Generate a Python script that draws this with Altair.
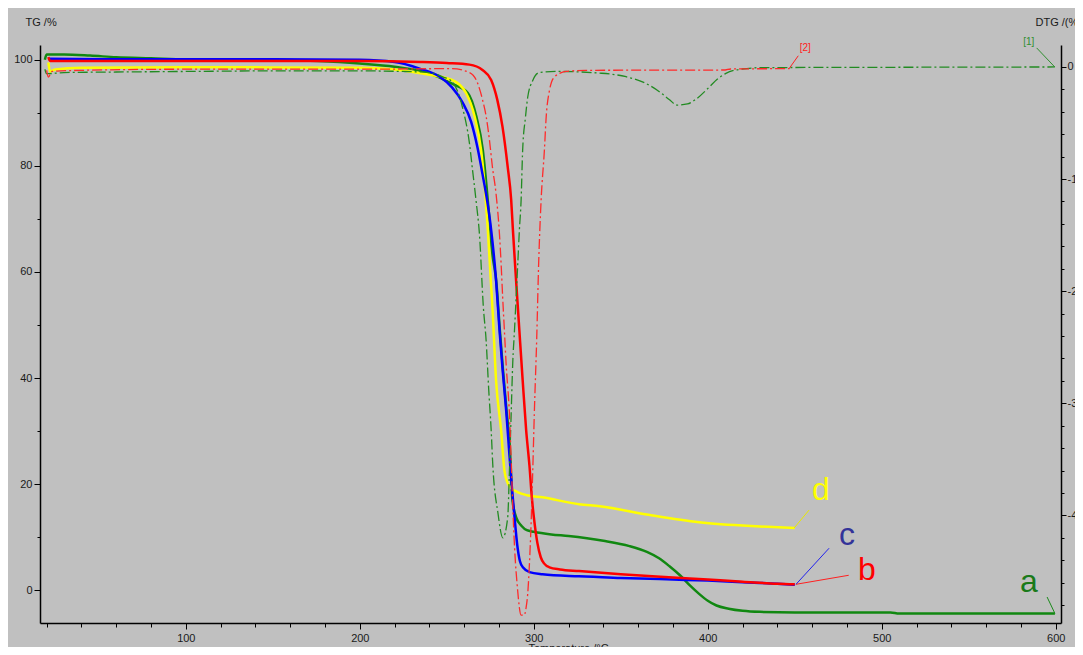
import altair as alt
import pandas as pd

# ---------------- data ----------------
# TG curves (solid), temperature in degC, mass in %
T_A = [19, 20, 30, 45, 60, 80, 100, 150, 200, 220, 235, 245, 253, 262, 267, 270.7, 272.6, 274.5, 276, 278.5, 280.5, 282.3, 284.3, 286.2, 287.7, 290, 293, 296, 300, 310, 320, 340, 355, 365, 372, 378, 384, 390, 395, 400, 405, 412, 420, 430, 450, 505, 510, 599.5]
TG_A = [100, 101, 101, 100.8, 100.5, 100.3, 100.1, 100.0, 99.3, 98.7, 97.9, 96.8, 95.5, 93.8, 89.3, 83, 77, 70, 64, 58, 49, 41.5, 34, 27, 17, 13.6, 12.1, 11.3, 11.0, 10.5, 10.2, 9.3, 8.3, 7.2, 6, 4.5, 2.8, 0.8, -0.7, -2.0, -2.9, -3.5, -3.9, -4.1, -4.2, -4.2, -4.4, -4.4]

T_B = [21, 22, 60, 100, 200, 235, 250, 263, 270.5, 275.5, 279, 282, 285, 287, 288, 289.8, 291.7, 293.6, 295.6, 297.5, 299, 300.3, 302, 304, 306, 309, 315, 326, 350, 380, 400, 420, 440, 450]
TG_B = [100.5, 99.8, 99.8, 99.8, 99.8, 99.6, 99.4, 99.1, 98.1, 96.2, 92.5, 87.4, 79.8, 73.6, 67.9, 58.5, 49, 39.6, 30.2, 23.5, 17, 13, 9, 6.2, 5.0, 4.3, 3.9, 3.6, 3.0, 2.4, 2.0, 1.6, 1.2, 1.1]

T_C = [21, 60, 100, 150, 200, 220, 234, 246, 253, 259, 264, 267.6, 270.5, 273.4, 275.5, 278.3, 280.3, 282.1, 284.1, 286, 287.5, 289, 290.5, 292, 294, 297.5, 305, 326, 350, 380, 400, 420, 440, 450]
TG_C = [100.2, 100.1, 100.1, 100.1, 100, 99.6, 98.4, 96.8, 94.8, 92.0, 88.3, 83.5, 78.5, 73, 67.9, 58.5, 49, 41.5, 34, 25.5, 19, 13.5, 8.5, 5.5, 4.2, 3.4, 3.0, 2.6, 2.3, 2.0, 1.8, 1.5, 1.2, 1.0]

T_D = [21, 22, 25, 40, 100, 200, 220, 234, 253, 261, 266, 269.7, 271.6, 273.6, 276.4, 278.3, 281.2, 283.1, 285, 287.5, 290.6, 296, 305, 326, 338, 366, 395, 430, 450]
TG_D = [99.5, 97.8, 98.2, 98.5, 98.6, 98.5, 98.2, 97.5, 96.2, 93.8, 89.3, 83, 76.8, 67.9, 52.3, 39.6, 30.2, 22.6, 20.2, 19.1, 18.5, 17.9, 17.5, 16.2, 15.8, 14.2, 12.8, 12.0, 11.7]

# DTG curves (dash-dot), %/min
T_G = [19, 20, 30, 60, 100, 150, 200, 225, 240, 248, 253, 259, 263, 264.8, 266.8, 268.8, 271, 272.6, 274.1, 275.5, 276.4, 279.4, 282.2, 285, 286, 287, 287.9, 288.9, 290.8, 291.7, 292.7, 293.6, 295.2, 296.5, 299.4, 303.2, 312.8, 339, 353, 363.5, 373, 377.8, 382.4, 388.3, 393, 400.8, 405.4, 410.4, 419.8, 431, 500, 599.5]
DTG_G = [-0.2, -0.6, -0.5, -0.45, -0.4, -0.35, -0.35, -0.4, -0.5, -0.9, -1.3, -3.6, -6.8, -9.2, -11.9, -15, -21.4, -24.4, -28.8, -32.4, -35.4, -39.8, -42, -40.2, -36, -30.9, -26.4, -23.5, -17.5, -14.6, -11.9, -7.4, -4.5, -2.7, -1.2, -0.5, -0.4, -0.56, -0.87, -1.4, -2.3, -2.9, -3.4, -3.3, -2.9, -1.8, -1.1, -0.57, -0.18, -0.06, -0.03, 0.0]

T_R = [20, 21, 23, 40, 100, 200, 253, 263, 267.6, 270.5, 272.6, 274.5, 276.2, 278.3, 280.3, 281.2, 282.1, 283.1, 284.1, 286, 287, 288, 289, 290.5, 292.7, 294.5, 295.6, 296.5, 297.5, 298.5, 299.4, 300.3, 301.7, 302.8, 304.2, 306.1, 307.1, 309, 311.8, 318.5, 330, 410, 413, 447]
DTG_R = [-0.3, -0.9, -0.4, -0.3, -0.2, -0.2, -0.15, -0.5, -1.4, -2.9, -4.4, -6.5, -8.9, -11.3, -15, -17.5, -20.5, -23.5, -26.5, -31, -35, -39.5, -43, -46.3, -48.9, -48.9, -48.2, -47, -44.3, -40.5, -36, -30.9, -24.1, -17.5, -11.9, -7.4, -4.5, -2.1, -0.9, -0.4, -0.3, -0.27, -0.18, -0.15]

# curve labels (TG axis)
LABELS = ["a", "b", "c", "d"]
LABEL_T = [584.5, 491.5, 480, 465]
LABEL_V = [1.5, 3.8, 10.4, 18.9]
LABEL_COLORS = ["#1a7a1a", "#ff0000", "#333399", "#ffff00"]
LEAD_GRP = ["a", "a", "b", "b", "c", "c", "d", "d"]
LEAD_T = [595, 599.5, 450.7, 481, 450.7, 469.7, 449.6, 458.2]
LEAD_V = [-1.3, -4.4, 1.1, 2.8, 1.1, 7.9, 11.7, 15.1]
LEAD_COLORS = ["#1a8a1a", "#1a8a1a", "#ff2020", "#ff2020", "#2222ee", "#2222ee", "#e8e800", "#e8e800"]

# DTG curve labels
DLABELS = ["[1]", "[2]"]
DLABEL_T = [584.5, 456]
DLABEL_V = [2.2, 1.7]
DLABEL_COLORS = ["#2f8f2f", "#ff2020"]
DLEAD_GRP = ["1", "1", "2", "2"]
DLEAD_T = [589, 599.4, 452, 446.7]
DLEAD_V = [1.7, 0.0, 1.0, -0.15]
DLEAD_COLORS = ["#2f8f2f", "#2f8f2f", "#ff2020", "#ff2020"]

X_TICKS = list(range(20, 601, 20))
TG_TICKS = list(range(0, 101, 10))
DTG_TICKS = list(range(-48, 1, 2))

# ---------------- chart ----------------
def frame(t, v):
    return pd.DataFrame({"T": t, "v": v})

FONT = "Liberation Sans"

x_enc = alt.X(
    "T:Q",
    scale=alt.Scale(domain=[16.2, 603], nice=False, zero=False),
    axis=alt.Axis(
        values=X_TICKS,
        labelExpr="datum.value % 100 === 0 ? '' + datum.value : ''",
        labelOverlap=False,
        labelPadding=3,
        tickSize={"condition": {"test": "datum.value % 100 === 0", "value": 6}, "value": 4},
        title="Temperature /°C",
        titleX=528, titleY=19, titleAlign="center", titleBaseline="top",
    ),
)

y_tg = alt.Y(
    "v:Q",
    scale=alt.Scale(domain=[-6.2, 102.8], nice=False, zero=False),
    axis=alt.Axis(
        orient="left",
        values=TG_TICKS,
        labelExpr="datum.value % 20 === 0 ? '' + datum.value : ''",
        labelOverlap=False,
        labelPadding=2,
        tickSize={"condition": {"test": "datum.value % 20 === 0", "value": 6}, "value": 3},
        title="TG /%",
        titleAngle=0, titleX=-15, titleY=-23, titleAlign="left", titleBaseline="middle",
    ),
)

y_dtg = alt.Y(
    "v:Q",
    scale=alt.Scale(domain=[-49.6, 1.96], nice=False, zero=False),
    axis=alt.Axis(
        orient="right",
        values=DTG_TICKS,
        labelExpr="datum.value % 10 === 0 ? '' + datum.value : ''",
        labelOverlap=False,
        labelPadding=1,
        tickSize={"condition": {"test": "datum.value % 10 === 0", "value": 5}, "value": 3},
        title="DTG /(%/min)",
        titleAngle=0, titleX=-26, titleY=-23, titleAlign="left", titleBaseline="middle",
    ),
)


def tg_line(t, v, color):
    return alt.Chart(frame(t, v)).mark_line(
        color=color, strokeWidth=2.5, interpolate="monotone"
    ).encode(x=x_enc, y=y_tg)


def dtg_line(t, v, color):
    return alt.Chart(frame(t, v)).mark_line(
        color=color, strokeWidth=1.3, strokeDash=[10, 3, 2, 3], interpolate="monotone"
    ).encode(x=x_enc, y=y_dtg)


label_df = pd.DataFrame({"label": LABELS, "T": LABEL_T, "v": LABEL_V, "col": LABEL_COLORS})
lead_df = pd.DataFrame({"grp": LEAD_GRP, "T": LEAD_T, "v": LEAD_V, "col": LEAD_COLORS})
dlabel_df = pd.DataFrame({"label": DLABELS, "T": DLABEL_T, "v": DLABEL_V, "col": DLABEL_COLORS})
dlead_df = pd.DataFrame({"grp": DLEAD_GRP, "T": DLEAD_T, "v": DLEAD_V, "col": DLEAD_COLORS})

tg_labels = alt.Chart(label_df).mark_text(
    font="Liberation Sans Narrow, Liberation Sans", fontSize=32, align="center", baseline="middle"
).encode(x=x_enc, y=y_tg, text="label:N", color=alt.Color("col:N", scale=None))

tg_leads = alt.Chart(lead_df).mark_line(strokeWidth=1).encode(
    x=x_enc, y=y_tg, detail="grp:N", color=alt.Color("col:N", scale=None)
)

dtg_labels = alt.Chart(dlabel_df).mark_text(
    font=FONT, fontSize=10, align="center", baseline="middle"
).encode(x=x_enc, y=y_dtg, text="label:N", color=alt.Color("col:N", scale=None))

dtg_leads = alt.Chart(dlead_df).mark_line(strokeWidth=1).encode(
    x=x_enc, y=y_dtg, detail="grp:N", color=alt.Color("col:N", scale=None)
)

tg_layer = alt.layer(
    tg_line(T_A, TG_A, "#118811"),
    tg_line(T_D, TG_D, "#ffff00"),
    tg_line(T_C, TG_C, "#0000ff"),
    tg_line(T_B, TG_B, "#ff0000"),
    tg_leads,
    tg_labels,
)

dtg_layer = alt.layer(
    dtg_line(T_G, DTG_G, "#228b22"),
    dtg_line(T_R, DTG_R, "#ff2a2a"),
    dtg_leads,
    dtg_labels,
)

chart = (
    alt.layer(tg_layer, dtg_layer)
    .resolve_scale(y="independent")
    .properties(
        width=1021,
        height=578,
        padding={"left": 32, "top": 37, "right": 14, "bottom": 24},
        autosize=alt.AutoSizeParams(type="none"),
        background="#c0c0c0",
    )
    .configure_axis(
        domainColor="#000000",
        domainWidth=1.5,
        tickColor="#000000",
        tickWidth=1,
        grid=False,
        labelFont=FONT,
        labelFontSize=11,
        labelColor="#1a1a1a",
        titleFont=FONT,
        titleFontSize=11,
        titleFontWeight="normal",
        titleColor="#1a1a1a",
    )
    .configure_view(strokeWidth=0)
)

chart.save("out.html", embed_options={"renderer": "svg", "actions": False})
